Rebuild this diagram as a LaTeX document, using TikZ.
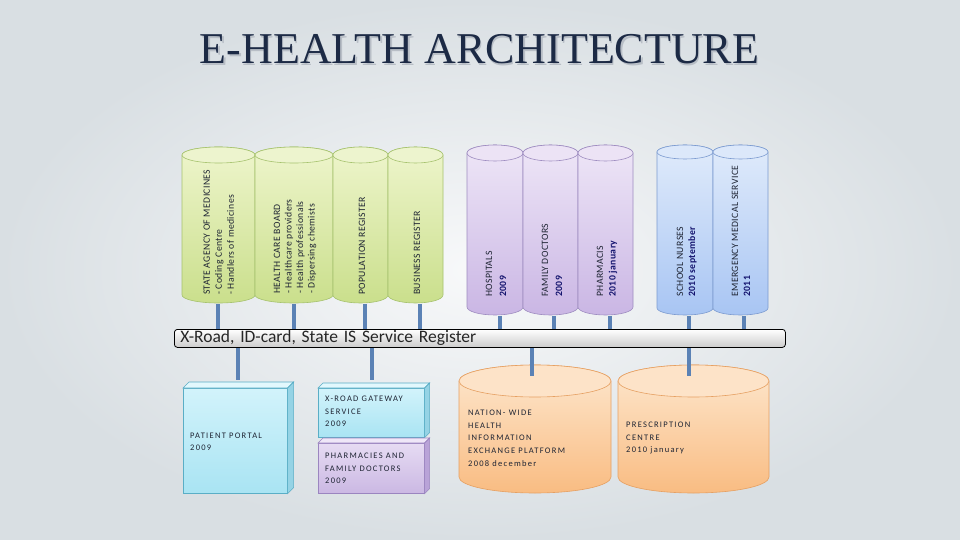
\documentclass[tikz,border=0pt]{standalone}
\usepackage{fontspec}
\setmainfont{Liberation Serif}
\newfontfamily\carl{Carlito}
\newfontfamily\carlv[LetterSpace=4]{Carlito}
\newfontfamily\carlsp[LetterSpace=15]{Carlito}
\usetikzlibrary{calc}
\definecolor{bgout}{HTML}{D9DFE3}
\definecolor{bgin}{HTML}{F8F9FA}
\definecolor{titlec}{HTML}{1C2A45}
\definecolor{titlesh}{HTML}{B8BEC6}
\definecolor{txtdark}{HTML}{1E2433}
\definecolor{navy}{HTML}{14146E}
\definecolor{conncol}{HTML}{5B82B5}
% green
\definecolor{gtop}{HTML}{EEF5CC}\definecolor{gbot}{HTML}{CADF8C}\definecolor{glid}{HTML}{EDF4CE}\definecolor{gedge}{HTML}{A6C26E}
% purple
\definecolor{ptop}{HTML}{EEE6F7}\definecolor{pbot}{HTML}{CAB6E4}\definecolor{plid}{HTML}{ECE3F5}\definecolor{pedge}{HTML}{9E8CC0}
% blue
\definecolor{btop}{HTML}{E0EBFB}\definecolor{bbot}{HTML}{A8C5F3}\definecolor{blid}{HTML}{DCE8FA}\definecolor{bedge}{HTML}{7C9BD0}
% orange
\definecolor{otop}{HTML}{FDE7CE}\definecolor{obot}{HTML}{F9BC82}\definecolor{olid}{HTML}{FDE3C8}\definecolor{oedge}{HTML}{E6A062}
% box cyan
\definecolor{ctop}{HTML}{D2F3FB}\definecolor{cbot}{HTML}{A9E4F3}\definecolor{cface}{HTML}{E2F8FD}\definecolor{cside}{HTML}{95D3E5}\definecolor{cedge}{HTML}{5AAEC6}
% box purple
\definecolor{qtop}{HTML}{E6DBF3}\definecolor{qbot}{HTML}{CBB8E3}\definecolor{qface}{HTML}{EFE7F8}\definecolor{qside}{HTML}{B9A3D8}\definecolor{qedge}{HTML}{9B85C0}

\newcommand\drawcyl[6]{%
  \pgfmathsetmacro\cylcx{(#1+#2)/2}%
  \pgfmathsetmacro\cylrx{(#2-#1)/2}%
  \path[draw=#6edge, line width=0.6pt, top color=#6top, bottom color=#6bot]
    (#1,#3) -- (#1,#4) arc[start angle=180,end angle=360,x radius=\cylrx pt,y radius=#5pt]
    -- (#2,#3) arc[start angle=0,end angle=180,x radius=\cylrx pt,y radius=#5pt] -- cycle;
  \path[draw=#6edge, line width=0.6pt, fill=#6lid] (\cylcx,#3) ellipse[x radius=\cylrx pt,y radius=#5pt];
}
% 3D box faces around a named front node: #1 node, #2 depth, #3 prefix
\newcommand\boxfaces[3]{%
  \path[draw=#3edge, line width=0.6pt, fill=#3face]
    (#1.north west) -- ($(#1.north west)+(#2,-#2)$) -- ($(#1.north east)+(#2,-#2)$) -- (#1.north east) -- cycle;
  \path[draw=#3edge, line width=0.6pt, fill=#3side]
    (#1.north east) -- ($(#1.north east)+(#2,-#2)$) -- ($(#1.south east)+(#2,-#2)$) -- (#1.south east) -- cycle;
}

\tikzset{
  vtext/.style={rotate=90, anchor=north west, inner sep=0pt, align=left, text=txtdark},
  btext/.style={anchor=north west, inner sep=0pt, align=left, text=txtdark},
  conn/.style={draw=conncol, line width=3.5pt},
  barsty/.style={draw=black, line width=0.8pt, rounded corners=3pt, top color=white, bottom color=black!20,
     inner xsep=6pt, inner ysep=0pt, align=left, font=\carl\fontsize{17.5}{18}\selectfont, text=black!85},
  frontc/.style={draw=cedge, line width=0.6pt, top color=ctop, bottom color=cbot, inner sep=0pt, anchor=north west},
  frontq/.style={draw=qedge, line width=0.6pt, top color=qtop, bottom color=qbot, inner sep=0pt, anchor=north west},
}

\begin{document}
\begin{tikzpicture}[x=1pt,y=-1pt]
\useasboundingbox (0,0) rectangle (960,540);
\fill[bgout] (0,0) rectangle (960,540);
\shade[inner color=bgin, outer color=bgout] (0,0) rectangle (960,540);

% title
\node[font=\fontsize{44}{44}\selectfont, text=titlesh] at (481,51) {E-HEALTH ARCHITECTURE};
\node[font=\fontsize{44}{44}\selectfont, text=titlec] (title) at (479.5,49.5) {E-HEALTH ARCHITECTURE};

% top cylinders
\drawcyl{182}{255}{155}{295}{8}{g}
\drawcyl{255}{333}{155}{295}{8}{g}
\drawcyl{333}{388}{155}{295}{8}{g}
\drawcyl{388}{443}{155}{295}{8}{g}
\drawcyl{467}{523}{153}{307}{8}{p}
\drawcyl{523}{578}{153}{307}{8}{p}
\drawcyl{578}{633}{153}{307}{8}{p}
\drawcyl{657}{713}{152}{308}{7}{b}
\drawcyl{713}{768}{152}{308}{7}{b}

% cylinder texts
\node[vtext, font=\carlv\fontsize{9.7}{12}\selectfont] (t-sam) at (203.5,295)
  {STATE AGENCY OF MEDICINES\\- Coding Centre\\- Handlers of medicines};
\node[vtext, font=\carlv\fontsize{9.7}{11.5}\selectfont] (t-hcb) at (273.5,294)
  {HEALTH CARE BOARD\\- Healthcare providers\\- Health professionals\\- Dispersing chemists};
\node[vtext, font=\carlv\fontsize{9.7}{12}\selectfont] (t-pop) at (358.5,295) {POPULATION REGISTER};
\node[vtext, font=\carlv\fontsize{9.7}{12}\selectfont] (t-bus) at (413.5,295) {BUSINESS REGISTER};
\node[vtext, font=\carlv\fontsize{9.7}{14}\selectfont] (t-hos) at (485.5,297) {HOSPITALS\\\textcolor{navy}{\bfseries 2009}};
\node[vtext, font=\carlv\fontsize{9.7}{14}\selectfont] (t-fam) at (541.5,297) {FAMILY DOCTORS\\\textcolor{navy}{\bfseries 2009}};
\node[vtext, font=\carlv\fontsize{9.7}{12.5}\selectfont] (t-pha) at (596.5,297) {PHARMACIS\\\textcolor{navy}{\bfseries 2010 january}};
\node[vtext, font=\carlv\fontsize{9.7}{12}\selectfont] (t-sch) at (676.5,297) {SCHOOL NURSES\\\textcolor{navy}{\bfseries 2010 september}};
\node[vtext, font=\carlv\fontsize{9.7}{12}\selectfont] (t-emg) at (731.5,297) {EMERGENCY MEDICAL SERVICE\\\textcolor{navy}{\bfseries 2011}};

% bar
\node[barsty, anchor=north west, minimum width=611pt, minimum height=18pt, text width=599pt] (bar) at (174,329)
  {X-Road, ID-card, State IS Service Register};

% connector start points
\coordinate (c-sam) at (218,304);
\coordinate (c-hcb) at (294,304);
\coordinate (c-pop) at (365,304);
\coordinate (c-bus) at (420,304);
\coordinate (c-hos) at (500,316);
\coordinate (c-fam) at (554,316);
\coordinate (c-pha) at (610,316);
\coordinate (c-sch) at (689,316);
\coordinate (c-emg) at (744,316);
\foreach \c in {sam,hcb,pop,bus,hos,fam,pha,sch,emg}
  \draw[conn] (c-\c) -- (c-\c |- bar.north);

% bottom boxes
\node[frontc, minimum width=104pt, minimum height=105pt] (portal) at (183,388) {};
\boxfaces{portal}{6}{c}
\node[frontc, minimum width=106pt, minimum height=49pt] (xroad) at (318,388) {};
\boxfaces{xroad}{5}{c}
\node[frontq, minimum width=106pt, minimum height=50pt] (pharm) at (318,443) {};
\boxfaces{pharm}{5}{q}

% bottom cylinders
\drawcyl{459}{611}{381}{477}{16}{o}
\drawcyl{618}{769}{381}{477}{16}{o}
\coordinate (c-nat) at (532,376);
\coordinate (c-pre) at (689,376);
\coordinate (c-portal) at (238,380);
\coordinate (c-xroad) at (372,380);

% connectors below bar
\draw[conn] (bar.south -| c-portal) -- (c-portal);
\draw[conn] (bar.south -| c-xroad) -- (c-xroad);
\draw[conn] (bar.south -| c-nat) -- (c-nat);
\draw[conn] (bar.south -| c-pre) -- (c-pre);

% bottom texts
\node[btext, font=\carlsp\fontsize{8.5}{12}\selectfont] (t-portal) at (190,433) {PATIENT PORTAL\\2009};
\node[btext, font=\carlsp\fontsize{8.5}{12.5}\selectfont] (t-xroad) at (325,396) {X-ROAD GATEWAY\\SERVICE\\2009};
\node[btext, font=\carlsp\fontsize{8.5}{12.5}\selectfont] (t-pharm) at (325,453) {PHARMACIES AND\\FAMILY DOCTORS\\2009};
\node[btext, font=\carlsp\fontsize{8.5}{12.6}\selectfont] (t-nat) at (468,410)
  {NATION- WIDE\\HEALTH\\INFORMATION\\EXCHANGE PLATFORM\\2008 december};
\node[btext, font=\carlsp\fontsize{8.5}{12.5}\selectfont] (t-pre) at (626,422) {PRESCRIPTION\\CENTRE\\2010 january};
\end{tikzpicture}
\end{document}
